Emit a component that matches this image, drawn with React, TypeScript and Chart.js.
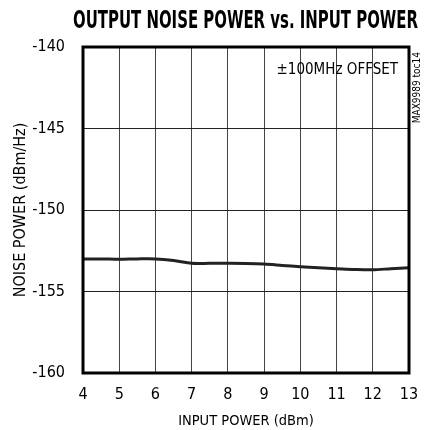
import React, { useEffect, useRef } from "react";
import { Chart, registerables } from "chart.js";
Chart.register(...registerables);

const inputPower = [4, 4.5, 5, 5.5, 6, 6.5, 7, 7.5, 8, 8.5, 9, 9.5, 10, 10.5, 11, 11.5, 12, 12.5, 13];
const noisePower = [-153.0, -153.0, -153.02, -153.0, -153.0, -153.1, -153.27, -153.27, -153.27, -153.28, -153.32, -153.4, -153.48, -153.55, -153.6, -153.65, -153.67, -153.6, -153.54];
const xTicks = [4, 5, 6, 7, 8, 9, 10, 11, 12, 13];
const yTicks = [-160, -155, -150, -145, -140];
const titleText = "OUTPUT NOISE POWER vs. INPUT POWER";
const xTitle = "INPUT POWER (dBm)";
const yTitle = "NOISE POWER (dBm/Hz)";
const annotation = "\u00b1100MHz OFFSET";
const sideLabel = "MAX9989 toc14";

const NARROW = "'Liberation Sans Narrow', 'Arial Narrow', 'DejaVu Sans Condensed', sans-serif";

const decor = {
  id: "decor",
  afterDraw(chart: any) {
    const { ctx, chartArea } = chart;
    ctx.save();
    ctx.lineWidth = 3;
    ctx.strokeStyle = "#000";
    ctx.strokeRect(chartArea.left, chartArea.top, chartArea.right - chartArea.left, chartArea.bottom - chartArea.top);
    // title
    ctx.fillStyle = "#000";
    ctx.font = `bold 25px ${NARROW}`;
    ctx.textBaseline = "middle";
    ctx.textAlign = "left";
    const w = ctx.measureText(titleText).width;
    const target = 345;
    ctx.save();
    ctx.translate(73, 21);
    ctx.scale(target / w, 1);
    ctx.fillText(titleText, 0, 0);
    ctx.restore();
    // annotation
    ctx.font = `15px ${NARROW}`;
    ctx.textAlign = "right";
    ctx.fillText(annotation, 398, 70);
    // side label
    ctx.save();
    ctx.translate(417, 52);
    ctx.rotate(-Math.PI / 2);
    ctx.font = `10px ${NARROW}`;
    ctx.textAlign = "right";
    ctx.textBaseline = "middle";
    ctx.fillText(sideLabel, 0, 0);
    ctx.restore();
    ctx.restore();
  },
};

export default function App() {
  const ref = useRef<HTMLCanvasElement>(null);
  useEffect(() => {
    const chart = new Chart(ref.current!, {
      type: "line",
      data: {
        datasets: [
          {
            data: inputPower.map((x, i) => ({ x, y: noisePower[i] })),
            borderColor: "#222",
            borderWidth: 3,
            pointRadius: 0,
            tension: 0.3,
          },
        ],
      },
      options: {
        animation: false,
        responsive: false,
        layout: { padding: { top: 47, right: 16, left: 0, bottom: 0 } },
        plugins: { legend: { display: false }, tooltip: { enabled: false } },
        scales: {
          x: {
            type: "linear",
            min: 4,
            max: 13,
            afterBuildTicks: (s: any) => { s.ticks = xTicks.map((v) => ({ value: v })); },
            afterFit: (s: any) => { s.height = 57; s.paddingRight = 0; s.paddingLeft = 0; },
            grid: { color: "#444", lineWidth: 1, drawTicks: false },
            border: { display: false },
            ticks: { color: "#000", padding: 12, font: { family: NARROW, size: 16 }, maxRotation: 0 },
            title: { display: true, text: xTitle, color: "#000", font: { family: NARROW, size: 14.5 }, padding: { top: 2, bottom: 0 } },
          },
          y: {
            min: -160,
            max: -140,
            afterBuildTicks: (s: any) => { s.ticks = yTicks.map((v) => ({ value: v })); },
            afterFit: (s: any) => { s.width = 83; s.paddingTop = 0; s.paddingBottom = 0; },
            grid: { color: "#222", lineWidth: 1, drawTicks: false },
            border: { display: false },
            ticks: { color: "#000", padding: 18, font: { family: NARROW, size: 16 } },
            title: { display: true, text: yTitle, color: "#000", font: { family: NARROW, size: 16 }, padding: { top: 11, bottom: 0 } },
          },
        },
      },
      plugins: [decor],
    });
    return () => chart.destroy();
  }, []);
  return (
    <div style={{ position: "absolute", left: 0, top: 0, width: 425, height: 430 }}>
      <canvas ref={ref} width={425} height={430} style={{ width: 425, height: 430 }} />
    </div>
  );
}
